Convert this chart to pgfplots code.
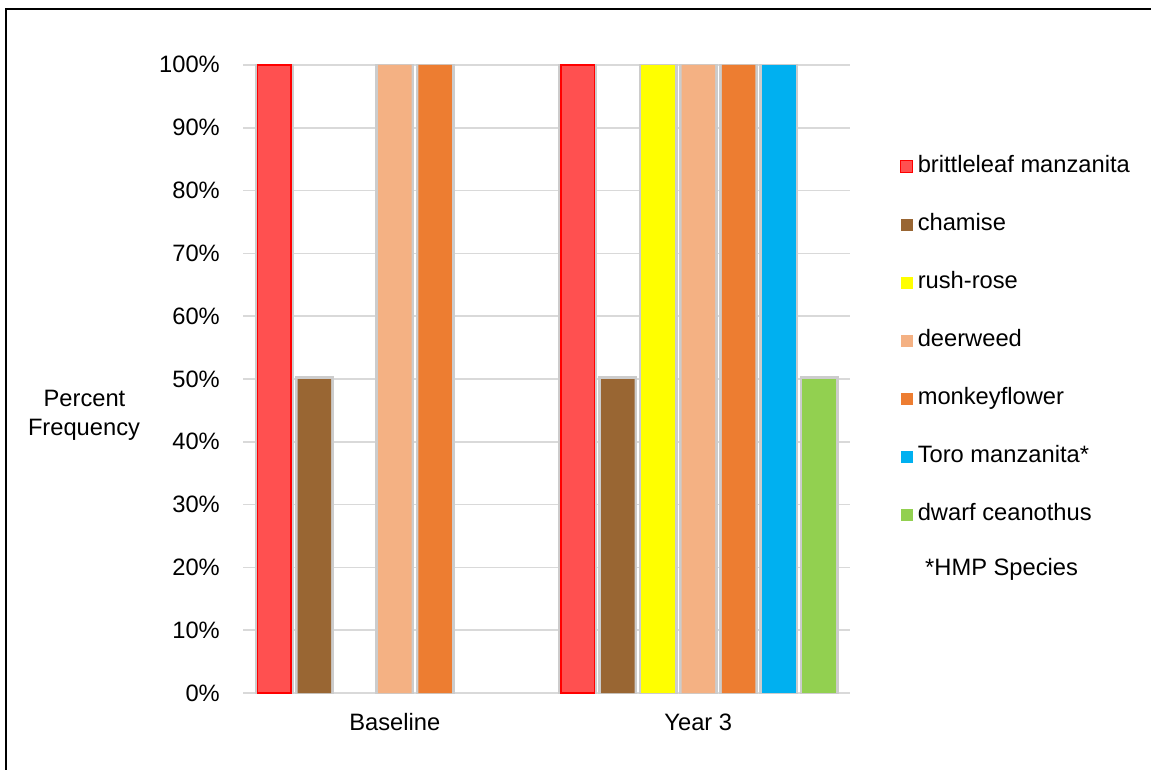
\documentclass[border=0pt]{standalone}
\usepackage{pgfplots}
\pgfplotsset{compat=1.18}
\usepackage{fontspec}
\setmainfont{Liberation Sans}
\definecolor{cred}{HTML}{FF5050}
\definecolor{cbrown}{HTML}{996633}
\definecolor{cyellow}{HTML}{FFFF00}
\definecolor{cpeach}{HTML}{F4B183}
\definecolor{corange}{HTML}{ED7D31}
\definecolor{cblue}{HTML}{00B0F0}
\definecolor{cgreen}{HTML}{92D050}
\definecolor{cgrid}{HTML}{D9D9D9}
\newcommand\cf{\fontsize{23.7pt}{28pt}\selectfont}
\makeatletter
\tikzset{nopre/.code={\let\tikz@preactions\pgfutil@empty}}
\makeatother
\pgfplotsset{
  mybar/.style n args={3}{ybar, bar width=33.5pt, bar shift=#3, fill=#1, draw=#2, line width=1.5pt,
    preaction={draw=black!20, line width=5.5pt},
    legend image code/.code={\draw[nopre, fill=#1, draw=#2, line width=1pt] (0pt,-6pt) rectangle (12pt,6pt);}},
}
\begin{document}
\begin{tikzpicture}[x=1pt,y=1pt]
\useasboundingbox (0,0) rectangle (1151,-770);
\clip (0,0) rectangle (1151,-770);
\fill[white] (0,0) rectangle (1151,-770);
\draw[line width=1.5pt] (6,-9) rectangle (1170,-790);
\begin{axis}[at={(243pt,-693pt)}, anchor=south west, scale only axis,
  width=607pt, height=628pt,
  xmin=-0.5, xmax=1.5, ymin=0, ymax=100,
  xtick={0,1}, xticklabels={Baseline,Year 3},
  ytick={0,10,...,100}, yticklabel={\pgfmathprintnumber{\tick}\%},
  /pgf/number format/assume math mode=true,
  axis line style={draw=none}, major tick length=0pt,
  ymajorgrids, grid style={cgrid, line width=1.5pt},
  tick label style={font=\cf},
  xticklabel style={anchor=base, yshift=-37pt, inner sep=0pt},
  yticklabel style={anchor=base east, xshift=-23pt, yshift=-8pt, inner sep=0pt},
  legend style={draw=none, fill=none, font=\cf, inner sep=0pt,
    at={(1.0825,0.8567)}, anchor=north west,
    nodes={inner sep=0pt, text height=17pt, text depth=6pt},
    row sep=35pt, column sep=4.5pt},
  legend cell align=left,
]
\addplot[mybar={cred}{red}{-120.75pt}] coordinates {(0,100) (1,100)};
\addlegendentry{brittleleaf manzanita}
\addplot[mybar={cbrown}{none}{-80.5pt}] coordinates {(0,50) (1,50)};
\addlegendentry{chamise}
\addplot[mybar={cyellow}{none}{-40.25pt}] coordinates {(1,100)};
\addlegendentry{rush-rose}
\addplot[mybar={cpeach}{none}{0pt}] coordinates {(0,100) (1,100)};
\addlegendentry{deerweed}
\addplot[mybar={corange}{none}{40.25pt}] coordinates {(0,100) (1,100)};
\addlegendentry{monkeyflower}
\addplot[mybar={cblue}{none}{80.5pt}] coordinates {(1,100)};
\addlegendentry{Toro manzanita*}
\addplot[mybar={cgreen}{none}{120.75pt}] coordinates {(1,50)};
\addlegendentry{dwarf ceanothus}
\end{axis}
\node[anchor=base west, font=\cf, inner sep=0pt] at (925,-575) {*HMP Species};
\node[anchor=base, font=\cf, inner sep=0pt] at (84.5,-406.7) {Percent};
\node[anchor=base, font=\cf, inner sep=0pt] at (84,-435) {Frequency};
\end{tikzpicture}
\end{document}
